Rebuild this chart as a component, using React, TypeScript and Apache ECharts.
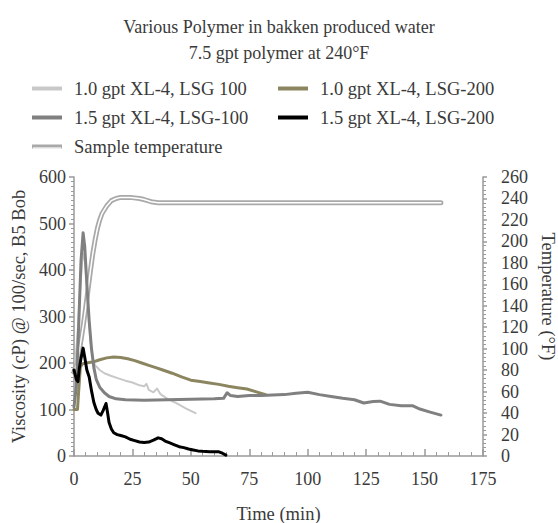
import React, { useEffect, useRef } from "react";
import * as echarts from "echarts";

// Viscosity traces, [time (min), viscosity (cP)]
const lsg100_10: [number, number][] = [
  [0.5, 200], [1.5, 260], [2.5, 350], [3.5, 420], [4.3, 435], [5, 400], [6, 320], [7, 250],
  [8, 210], [9, 195], [11, 185], [13, 178], [16, 172], [19, 167], [22, 162], [25, 158],
  [28, 152], [30, 150], [31, 155], [32, 142], [34, 137], [35.5, 145], [37, 133], [40, 123],
  [44, 113], [48, 102], [52, 92],
];
const lsg200_10: [number, number][] = [
  [0, 100], [1.5, 100], [2, 140], [2.7, 190], [3.5, 198], [5, 200], [8, 202], [11, 207],
  [14, 211], [17, 213], [20, 212], [23, 209], [26, 205], [29, 200], [32, 195], [35, 190],
  [38, 185], [42, 178], [46, 170], [50, 163], [54, 160], [58, 157], [62, 154], [66, 150],
  [70, 147], [74, 144], [78, 138], [82, 132],
];
const lsg100_15: [number, number][] = [
  [0, 105], [1, 150], [2, 280], [3, 420], [3.9, 480], [4.6, 450], [5.5, 370], [6.5, 290],
  [7.5, 230], [8.5, 190], [9.5, 165], [11, 148], [13, 136], [15, 128], [18, 123], [22, 121],
  [30, 120], [40, 121], [50, 122], [60, 123], [64, 124], [65.5, 136], [67, 130], [70, 128],
  [75, 130], [80, 130], [85, 131], [90, 132], [95, 135], [100, 137], [105, 132], [110, 128],
  [115, 124], [120, 121], [124, 114], [128, 117], [131, 118], [135, 111], [140, 108],
  [145, 108], [148, 101], [152, 95], [157, 88],
];
const lsg200_15: [number, number][] = [
  [0, 185], [0.5, 175], [1, 165], [1.7, 160], [2.3, 190], [3, 210], [3.9, 232], [4.5, 215],
  [5, 200], [5.5, 185], [6.5, 170], [7.5, 140], [8.5, 115], [9.5, 100], [10.3, 92], [11.5, 88],
  [12.5, 98], [13.7, 113], [14.3, 95], [15, 72], [16, 58], [17, 50], [18.5, 46], [20, 44],
  [22, 41], [24, 36], [26, 33], [28, 30], [30, 29], [32, 30], [34, 34], [36, 39], [37.5, 37],
  [39, 32], [41, 28], [43, 24], [45, 20], [47, 18], [49, 15], [51, 13], [53, 11], [55, 10],
  [58, 9], [60, 9], [62, 9], [63.5, 6], [65, 2],
];
// Sample temperature, [time (min), °F]
const sampleTemp: [number, number][] = [
  [0, 78], [1, 85], [2, 95], [3, 108], [4, 122], [5, 138], [6, 155], [7, 172], [8, 188],
  [9, 201], [10, 212], [11, 220], [12, 226], [14, 233], [16, 238], [18, 240], [20, 241],
  [24, 241], [28, 240], [30, 239], [33, 237], [36, 236], [45, 236], [60, 236], [80, 236],
  [100, 236], [120, 236], [140, 236], [157, 236],
];

const titleLines = ["Various Polymer in bakken produced water", "7.5 gpt polymer at 240°F"];
const seriesNames = [
  "1.0 gpt XL-4, LSG 100",
  "1.0 gpt XL-4, LSG-200",
  "1.5 gpt XL-4, LSG-100",
  "1.5 gpt XL-4, LSG-200",
  "Sample temperature",
];

const FONT = "Liberation Serif";
const TEXT = "#3a3a3a";
const AXIS = "#9a9a9a";

export default function App() {
  const ref = useRef<HTMLDivElement>(null);
  useEffect(() => {
    if (!ref.current) return;
    const chart = echarts.init(ref.current, undefined, { renderer: "svg" });
    const line = (name: string, data: [number, number][], color: string, width: number, yAxisIndex = 0, z = 2) => ({
      name,
      type: "line",
      data,
      yAxisIndex,
      symbol: "none",
      showSymbol: false,
      z,
      lineStyle: { color, width, cap: "round", join: "round" },
      itemStyle: { color },
    });
    const legendBase = {
      orient: "vertical",
      icon: "rect",
      itemWidth: 30,
      itemHeight: 4,
      itemGap: 10,
      textStyle: { fontFamily: FONT, fontSize: 18.5, color: TEXT, padding: [0, 0, 0, 7], lineHeight: 18 },
    };
    chart.setOption({
      animation: false,
      textStyle: { fontFamily: FONT },
      title: {
        text: titleLines.join("\n"),
        left: "center",
        top: 9,
        textStyle: { fontFamily: FONT, fontSize: 18, fontWeight: "normal", color: TEXT, lineHeight: 26 },
      },
      legend: [
        { ...legendBase, left: 27, top: 74, data: [seriesNames[0], seriesNames[2], seriesNames[4]] },
        { ...legendBase, left: 273, top: 74, data: [seriesNames[1], seriesNames[3]] },
      ],
      graphic: [
        { type: "line", shape: { x1: 33, y1: 148, x2: 61, y2: 148 }, style: { stroke: "#fff", lineWidth: 1.2 }, z: 100 },
      ],
      grid: { left: 74, right: 75, top: 177, bottom: 67, containLabel: false, outerBoundsMode: "none" },
      xAxis: {
        type: "value",
        min: 0,
        max: 175,
        interval: 25,
        name: "Time (min)",
        nameLocation: "middle",
        nameGap: 48,
        nameTextStyle: { fontFamily: FONT, fontSize: 18.5, color: TEXT },
        axisLine: { lineStyle: { color: AXIS, width: 1.5 } },
        axisTick: { inside: true, length: 7, lineStyle: { color: AXIS, width: 1.5 } },
        minorTick: { show: true, splitNumber: 5, length: 4, lineStyle: { color: AXIS } },
        axisLabel: { fontFamily: FONT, fontSize: 18, color: TEXT, margin: 14 },
        splitLine: { show: false },
      },
      yAxis: [
        {
          type: "value",
          min: 0,
          max: 600,
          interval: 100,
          name: "Viscosity (cP) @ 100/sec, B5 Bob",
          nameLocation: "middle",
          nameRotate: 90,
          nameGap: 37,
          nameTextStyle: { fontFamily: FONT, fontSize: 18.5, color: TEXT },
          axisLine: { show: true, lineStyle: { color: AXIS, width: 1.5 } },
          axisTick: { show: true, length: 5, lineStyle: { color: AXIS, width: 1.5 } },
          minorTick: { show: true, splitNumber: 10, length: 3, lineStyle: { color: AXIS } },
          axisLabel: { fontFamily: FONT, fontSize: 18, color: TEXT, margin: 8 },
          splitLine: { show: false },
        },
        {
          type: "value",
          min: 0,
          max: 260,
          interval: 20,
          position: "right",
          name: "Temperature (°F)",
          nameLocation: "middle",
          nameRotate: -90,
          nameGap: 42,
          nameTextStyle: { fontFamily: FONT, fontSize: 18.5, color: TEXT, padding: [0, 40, 0, 0] },
          axisLine: { show: true, lineStyle: { color: AXIS, width: 1.5 } },
          axisTick: { show: true, length: 4, lineStyle: { color: AXIS, width: 1.5 } },
          minorTick: { show: true, splitNumber: 5, length: 3, lineStyle: { color: AXIS } },
          axisLabel: { fontFamily: FONT, fontSize: 18, color: TEXT, margin: 18 },
          splitLine: { show: false },
        },
      ],
      series: [
        line(seriesNames[4], sampleTemp, "#a9a9a9", 5, 1, 1),
        { ...line("temperature core", sampleTemp, "#ffffff", 1.5, 1, 1), silent: true },
        line(seriesNames[0], lsg100_10, "#c8c8c8", 2),
        line(seriesNames[1], lsg200_10, "#8c8660", 3),
        line(seriesNames[2], lsg100_15, "#808080", 3),
        line(seriesNames[3], lsg200_15, "#000000", 3),
      ],
    });
    return () => chart.dispose();
  }, []);
  return <div ref={ref} style={{ position: "absolute", left: 0, top: 0, width: 558, height: 523 }} />;
}
